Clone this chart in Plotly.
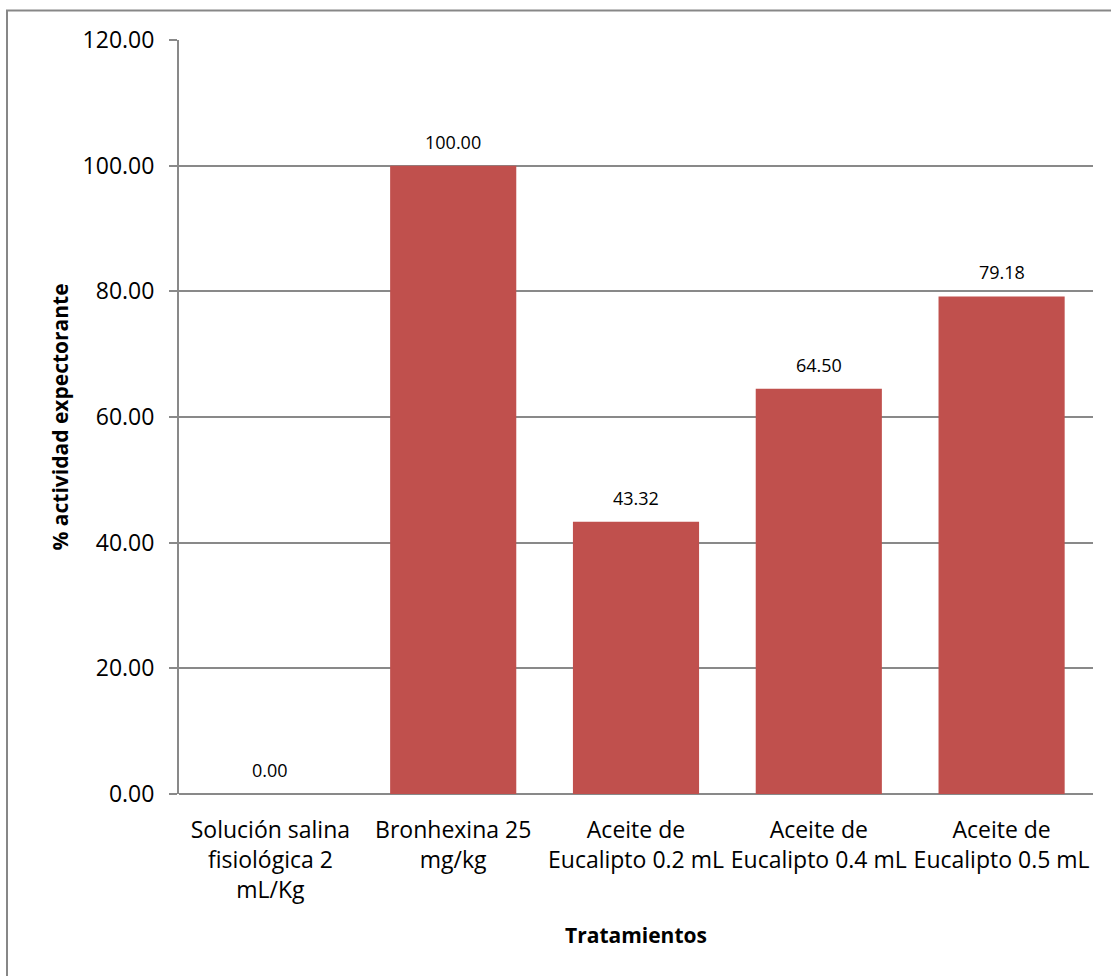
import plotly.graph_objects as go

# Treatments and their expectorant activity (%)
categories = [
    "Solución salina<br>fisiológica 2<br>mL/Kg",
    "Bronhexina 25<br>mg/kg",
    "Aceite de<br>Eucalipto 0.2 mL",
    "Aceite de<br>Eucalipto 0.4 mL",
    "Aceite de<br>Eucalipto 0.5 mL",
]
activity = [0.00, 100.00, 43.32, 64.50, 79.18]
y_ticks = [0, 20, 40, 60, 80, 100, 120]

BAR_COLOR = "#C0504D"
GRID_COLOR = "#898989"
FONT = "Open Sans"

W, H = 1111, 976
ML, MR, MT, MB = 179, 18, 40, 182

fig = go.Figure()
fig.add_trace(go.Bar(
    x=categories,
    y=activity,
    marker=dict(color=BAR_COLOR, line=dict(width=0)),
    hoverinfo="skip",
))

# value labels above each bar
for cat, val in zip(categories, activity):
    fig.add_annotation(
        x=cat, y=val, text=f"{val:.2f}", showarrow=False,
        yanchor="middle", yshift=24,
        font=dict(family=FONT, size=18, color="#000000"),
    )

# outer chart border (partly outside the visible page)
pw = W - ML - MR
ph = H - MT - MB
fig.add_shape(
    type="rect", xref="paper", yref="paper",
    x0=(7 - ML) / pw, x1=(1125 - ML) / pw,
    y0=(H - MB - 995) / ph, y1=(H - MB - 10.5) / ph,
    line=dict(color="#878787", width=2), fillcolor="rgba(0,0,0,0)",
    layer="below",
)

fig.update_layout(
    width=W, height=H,
    margin=dict(l=ML, r=MR, t=MT, b=MB),
    paper_bgcolor="white", plot_bgcolor="white",
    bargap=0.31,
    showlegend=False,
    font=dict(family=FONT, color="#000000"),
    xaxis=dict(
        showgrid=False, zeroline=False,
        showline=False,
        ticks="",
        tickfont=dict(family=FONT, size=23),
        ticklabelstandoff=20,
        title=dict(text="<b>Tratamientos</b>", font=dict(family=FONT, size=21), standoff=24),
        fixedrange=True,
    ),
    yaxis=dict(
        range=[0, 120],
        tickvals=y_ticks,
        ticktext=[f"{v:.2f}" for v in y_ticks],
        showgrid=True, gridcolor=GRID_COLOR, gridwidth=2,
        zeroline=True, zerolinecolor=GRID_COLOR, zerolinewidth=2,
        showline=True, linecolor=GRID_COLOR, linewidth=2,
        ticks="outside", ticklen=8, tickcolor=GRID_COLOR, tickwidth=2,
        tickfont=dict(family=FONT, size=23),
        ticklabelstandoff=10,
        title=dict(text="<b>% actividad expectorante</b>", font=dict(family=FONT, size=21), standoff=8),
        fixedrange=True,
    ),
)

fig.write_html("out.html", config={"displayModeBar": False})
